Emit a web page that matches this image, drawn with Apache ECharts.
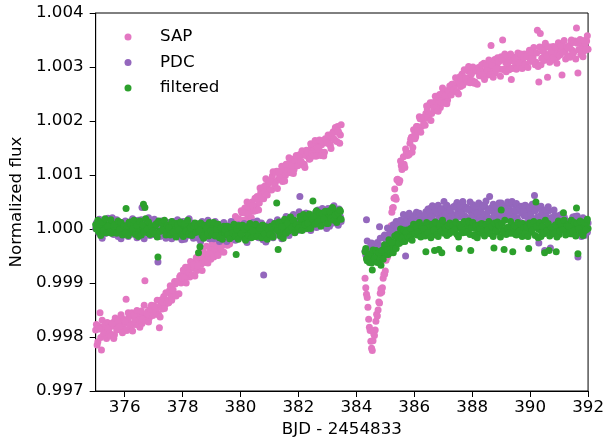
<!DOCTYPE html>
<html>
<head>
<meta charset="utf-8">
<script src="https://cdn.jsdelivr.net/npm/echarts@6/dist/echarts.min.js"></script>
<style>
  html, body { margin: 0; padding: 0; background: #fff; }
  #chart { width: 607px; height: 445px; }
</style>
</head>
<body>
<div id="chart"></div>
<script>
// BJD - 2454833, first segment (before the gap)
const timeA = [
  375.00, 375.05, 375.10, 375.15, 375.20, 375.25, 375.30, 375.35, 375.40, 375.45,
  375.50, 375.55, 375.60, 375.65, 375.70, 375.75, 375.80, 375.85, 375.90, 375.95,
  376.00, 376.05, 376.10, 376.15, 376.20, 376.25, 376.30, 376.35, 376.40, 376.45,
  376.50, 376.55, 376.60, 376.65, 376.70, 376.75, 376.80, 376.85, 376.90, 376.95,
  377.00, 377.05, 377.10, 377.15, 377.20, 377.25, 377.30, 377.35, 377.40, 377.45,
  377.50, 377.55, 377.60, 377.65, 377.70, 377.75, 377.80, 377.85, 377.90, 377.95,
  378.00, 378.05, 378.10, 378.15, 378.20, 378.25, 378.30, 378.35, 378.40, 378.45,
  378.50, 378.55, 378.60, 378.65, 378.70, 378.75, 378.80, 378.85, 378.90, 378.95,
  379.00, 379.05, 379.10, 379.15, 379.20, 379.25, 379.30, 379.35, 379.40, 379.45,
  379.50, 379.55, 379.60, 379.65, 379.70, 379.75, 379.80, 379.85, 379.90, 379.95,
  380.00, 380.05, 380.10, 380.15, 380.20, 380.25, 380.30, 380.35, 380.40, 380.45,
  380.50, 380.55, 380.60, 380.65, 380.70, 380.75, 380.80, 380.85, 380.90, 380.95,
  381.00, 381.05, 381.10, 381.15, 381.20, 381.25, 381.30, 381.35, 381.40, 381.45,
  381.50, 381.55, 381.60, 381.65, 381.70, 381.75, 381.80, 381.85, 381.90, 381.95,
  382.00, 382.05, 382.10, 382.15, 382.20, 382.25, 382.30, 382.35, 382.40, 382.45,
  382.50, 382.55, 382.60, 382.65, 382.70, 382.75, 382.80, 382.85, 382.90, 382.95,
  383.00, 383.05, 383.10, 383.15, 383.20, 383.25, 383.30, 383.35, 383.40, 383.45
]
// in-between cadences of the first segment
const timeA2 = [
  375.025, 375.075, 375.125, 375.175, 375.225, 375.275, 375.325, 375.375, 375.425, 375.475,
  375.525, 375.575, 375.625, 375.675, 375.725, 375.775, 375.825, 375.875, 375.925, 375.975,
  376.025, 376.075, 376.125, 376.175, 376.225, 376.275, 376.325, 376.375, 376.425, 376.475,
  376.525, 376.575, 376.625, 376.675, 376.725, 376.775, 376.825, 376.875, 376.925, 376.975,
  377.025, 377.075, 377.125, 377.175, 377.225, 377.275, 377.325, 377.375, 377.425, 377.475,
  377.525, 377.575, 377.625, 377.675, 377.725, 377.775, 377.825, 377.875, 377.925, 377.975,
  378.025, 378.075, 378.125, 378.175, 378.225, 378.275, 378.325, 378.375, 378.425, 378.475,
  378.525, 378.575, 378.625, 378.675, 378.725, 378.775, 378.825, 378.875, 378.925, 378.975,
  379.025, 379.075, 379.125, 379.175, 379.225, 379.275, 379.325, 379.375, 379.425, 379.475,
  379.525, 379.575, 379.625, 379.675, 379.725, 379.775, 379.825, 379.875, 379.925, 379.975,
  380.025, 380.075, 380.125, 380.175, 380.225, 380.275, 380.325, 380.375, 380.425, 380.475,
  380.525, 380.575, 380.625, 380.675, 380.725, 380.775, 380.825, 380.875, 380.925, 380.975,
  381.025, 381.075, 381.125, 381.175, 381.225, 381.275, 381.325, 381.375, 381.425, 381.475,
  381.525, 381.575, 381.625, 381.675, 381.725, 381.775, 381.825, 381.875, 381.925, 381.975,
  382.025, 382.075, 382.125, 382.175, 382.225, 382.275, 382.325, 382.375, 382.425, 382.475,
  382.525, 382.575, 382.625, 382.675, 382.725, 382.775, 382.825, 382.875, 382.925, 382.975,
  383.025, 383.075, 383.125, 383.175, 383.225, 383.275, 383.325, 383.375, 383.425, 383.475
]
// second segment (after the gap)
const timeB = [
  384.30, 384.35, 384.40, 384.45, 384.50, 384.55, 384.60, 384.65, 384.70, 384.75,
  384.80, 384.85, 384.90, 384.95, 385.00, 385.05, 385.10, 385.15, 385.20, 385.25,
  385.30, 385.35, 385.40, 385.45, 385.50, 385.55, 385.60, 385.65, 385.70, 385.75,
  385.80, 385.85, 385.90, 385.95, 386.00, 386.05, 386.10, 386.15, 386.20, 386.25,
  386.30, 386.35, 386.40, 386.45, 386.50, 386.55, 386.60, 386.65, 386.70, 386.75,
  386.80, 386.85, 386.90, 386.95, 387.00, 387.05, 387.10, 387.15, 387.20, 387.25,
  387.30, 387.35, 387.40, 387.45, 387.50, 387.55, 387.60, 387.65, 387.70, 387.75,
  387.80, 387.85, 387.90, 387.95, 388.00, 388.05, 388.10, 388.15, 388.20, 388.25,
  388.30, 388.35, 388.40, 388.45, 388.50, 388.55, 388.60, 388.65, 388.70, 388.75,
  388.80, 388.85, 388.90, 388.95, 389.00, 389.05, 389.10, 389.15, 389.20, 389.25,
  389.30, 389.35, 389.40, 389.45, 389.50, 389.55, 389.60, 389.65, 389.70, 389.75,
  389.80, 389.85, 389.90, 389.95, 390.00, 390.05, 390.10, 390.15, 390.20, 390.25,
  390.30, 390.35, 390.40, 390.45, 390.50, 390.55, 390.60, 390.65, 390.70, 390.75,
  390.80, 390.85, 390.90, 390.95, 391.00, 391.05, 391.10, 391.15, 391.20, 391.25,
  391.30, 391.35, 391.40, 391.45, 391.50, 391.55, 391.60, 391.65, 391.70, 391.75,
  391.80, 391.85, 391.90, 391.95, 392.00
]
const timeB2 = [
  384.325, 384.375, 384.425, 384.475, 384.525, 384.575, 384.625, 384.675, 384.725, 384.775,
  384.825, 384.875, 384.925, 384.975, 385.025, 385.075, 385.125, 385.175, 385.225, 385.275,
  385.325, 385.375, 385.425, 385.475, 385.525, 385.575, 385.625, 385.675, 385.725, 385.775,
  385.825, 385.875, 385.925, 385.975, 386.025, 386.075, 386.125, 386.175, 386.225, 386.275,
  386.325, 386.375, 386.425, 386.475, 386.525, 386.575, 386.625, 386.675, 386.725, 386.775,
  386.825, 386.875, 386.925, 386.975, 387.025, 387.075, 387.125, 387.175, 387.225, 387.275,
  387.325, 387.375, 387.425, 387.475, 387.525, 387.575, 387.625, 387.675, 387.725, 387.775,
  387.825, 387.875, 387.925, 387.975, 388.025, 388.075, 388.125, 388.175, 388.225, 388.275,
  388.325, 388.375, 388.425, 388.475, 388.525, 388.575, 388.625, 388.675, 388.725, 388.775,
  388.825, 388.875, 388.925, 388.975, 389.025, 389.075, 389.125, 389.175, 389.225, 389.275,
  389.325, 389.375, 389.425, 389.475, 389.525, 389.575, 389.625, 389.675, 389.725, 389.775,
  389.825, 389.875, 389.925, 389.975, 390.025, 390.075, 390.125, 390.175, 390.225, 390.275,
  390.325, 390.375, 390.425, 390.475, 390.525, 390.575, 390.625, 390.675, 390.725, 390.775,
  390.825, 390.875, 390.925, 390.975, 391.025, 391.075, 391.125, 391.175, 391.225, 391.275,
  391.325, 391.375, 391.425, 391.475, 391.525, 391.575, 391.625, 391.675, 391.725, 391.775,
  391.825, 391.875, 391.925, 391.975
]

// SAP flux
const sapA = [
  0.99813, 0.99785, 0.99820, 0.99845, 0.99776, 0.99818, 0.99814, 0.99807, 0.99827, 0.99813,
  0.99806, 0.99820, 0.99827, 0.99804, 0.99822, 0.99815, 0.99829, 0.99820, 0.99835, 0.99817,
  0.99826, 0.99870, 0.99833, 0.99837, 0.99825, 0.99845, 0.99823, 0.99835, 0.99823, 0.99839,
  0.99832, 0.99844, 0.99825, 0.99841, 0.99904, 0.99835, 0.99847, 0.99835, 0.99852, 0.99846,
  0.99858, 0.99845, 0.99855, 0.99842, 0.99817, 0.99859, 0.99852, 0.99875, 0.99860, 0.99868,
  0.99863, 0.99886, 0.99876, 0.99887, 0.99876, 0.99898, 0.99879, 0.99902, 0.99911, 0.99900,
  0.99913, 0.99904, 0.99929, 0.99914, 0.99921, 0.99911, 0.99931, 0.99937, 0.99927, 0.99939,
  0.99923, 0.99939, 0.99947, 0.99935, 0.99959, 0.99944, 0.99938, 0.99954, 0.99947, 0.99964,
  0.99961, 0.99954, 0.99950, 0.99971, 0.99957, 0.99970, 0.99980, 0.99958, 0.99975, 0.99971,
  0.99988, 0.99970, 0.99993, 0.99993, 0.99988, 1.00010, 1.00002, 1.00015, 1.00000, 1.00018,
  1.00014, 1.00030, 1.00016, 1.00039, 1.00031, 1.00021, 1.00039, 1.00033, 1.00050, 1.00033,
  1.00057, 1.00043, 1.00054, 1.00048, 1.00068, 1.00068, 1.00056, 1.00080, 1.00075, 1.00084,
  1.00073, 1.00090, 1.00098, 1.00087, 1.00085, 1.00107, 1.00091, 1.00098, 1.00108, 1.00088,
  1.00107, 1.00099, 1.00115, 1.00121, 1.00108, 1.00114, 1.00129, 1.00110, 1.00125, 1.00120,
  1.00119, 1.00138, 1.00125, 1.00137, 1.00120, 1.00136, 1.00143, 1.00133, 1.00130, 1.00153,
  1.00146, 1.00142, 1.00135, 1.00156, 1.00154, 1.00144, 1.00156, 1.00164, 1.00142, 1.00164,
  1.00159, 1.00169, 1.00155, 1.00169, 1.00180, 1.00165, 1.00180, 1.00190, 1.00178, 1.00174
]
const sapA2 = [
  0.99823, 0.99791, 0.99815, 0.99799, 0.99831, 0.99807, 0.99824, 0.99797, 0.99816, 0.99805,
  0.99802, 0.99825, 0.99797, 0.99835, 0.99813, 0.99831, 0.99819, 0.99841, 0.99808, 0.99831,
  0.99829, 0.99812, 0.99845, 0.99820, 0.99842, 0.99811, 0.99841, 0.99829, 0.99849, 0.99822,
  0.99818, 0.99848, 0.99833, 0.99859, 0.99830, 0.99843, 0.99828, 0.99852, 0.99859, 0.99840,
  0.99857, 0.99847, 0.99868, 0.99841, 0.99837, 0.99869, 0.99865, 0.99853, 0.99882, 0.99865,
  0.99864, 0.99895, 0.99868, 0.99887, 0.99903, 0.99876, 0.99903, 0.99880, 0.99914, 0.99909,
  0.99924, 0.99908, 0.99900, 0.99929, 0.99919, 0.99940, 0.99915, 0.99934, 0.99913, 0.99947,
  0.99932, 0.99954, 0.99948, 0.99923, 0.99956, 0.99939, 0.99968, 0.99937, 0.99954, 0.99944,
  0.99974, 0.99948, 0.99964, 0.99970, 0.99951, 0.99982, 0.99964, 0.99983, 0.99957, 0.99982,
  0.99971, 0.99991, 0.99972, 1.00008, 1.00006, 0.99999, 1.00023, 0.99995, 1.00019, 0.99997,
  1.00034, 1.00004, 1.00030, 1.00016, 1.00050, 1.00028, 1.00047, 1.00021, 1.00043, 1.00034,
  1.00034, 1.00060, 1.00035, 1.00076, 1.00057, 1.00077, 1.00068, 1.00093, 1.00063, 1.00088,
  1.00088, 1.00072, 1.00106, 1.00082, 1.00105, 1.00075, 1.00106, 1.00095, 1.00116, 1.00091,
  1.00089, 1.00120, 1.00105, 1.00132, 1.00104, 1.00118, 1.00103, 1.00128, 1.00136, 1.00117,
  1.00135, 1.00125, 1.00145, 1.00118, 1.00114, 1.00146, 1.00141, 1.00129, 1.00158, 1.00140,
  1.00135, 1.00164, 1.00135, 1.00151, 1.00165, 1.00136, 1.00161, 1.00135, 1.00167, 1.00160,
  1.00174, 1.00157, 1.00149, 1.00177, 1.00167, 1.00188, 1.00162, 1.00181, 1.00159, 1.00193
]
const sapB = [
  0.99909, 0.99879, 0.99855, 0.99818, 0.99792, 0.99775, 0.99806, 0.99813, 0.99842, 0.99850,
  0.99863, 0.99889, 0.99891, 0.99916, 0.99922, 0.99950, 0.99962, 0.99999, 1.00006, 1.00039,
  1.00057, 1.00059, 1.00091, 1.00089, 1.00090, 1.00117, 1.00120, 1.00120, 1.00148, 1.00141,
  1.00139, 1.00159, 1.00170, 1.00151, 1.00173, 1.00171, 1.00190, 1.00185, 1.00204, 1.00190,
  1.00202, 1.00194, 1.00214, 1.00221, 1.00211, 1.00234, 1.00214, 1.00229, 1.00219, 1.00237,
  1.00231, 1.00244, 1.00225, 1.00242, 1.00253, 1.00238, 1.00250, 1.00239, 1.00257, 1.00251,
  1.00268, 1.00256, 1.00266, 1.00254, 1.00274, 1.00271, 1.00264, 1.00287, 1.00272, 1.00280,
  1.00273, 1.00293, 1.00281, 1.00289, 1.00275, 1.00294, 1.00272, 1.00292, 1.00298, 1.00284,
  1.00294, 1.00283, 1.00307, 1.00290, 1.00296, 1.00285, 1.00303, 1.00340, 1.00296, 1.00307,
  1.00289, 1.00303, 1.00310, 1.00296, 1.00319, 1.00350, 1.00295, 1.00309, 1.00301, 1.00316,
  1.00312, 1.00277, 1.00298, 1.00318, 1.00303, 1.00315, 1.00324, 1.00300, 1.00316, 1.00310,
  1.00324, 1.00302, 1.00322, 1.00318, 1.00310, 1.00328, 1.00317, 1.00326, 1.00309, 1.00368,
  1.00272, 1.00362, 1.00316, 1.00336, 1.00326, 1.00314, 1.00281, 1.00322, 1.00337, 1.00318,
  1.00338, 1.00321, 1.00328, 1.00319, 1.00335, 1.00332, 1.00285, 1.00338, 1.00329, 1.00335,
  1.00321, 1.00337, 1.00343, 1.00331, 1.00327, 1.00348, 1.00372, 1.00289, 1.00344, 1.00323,
  1.00338, 1.00329, 1.00343, 1.00348, 1.00333
]
const sapB2 = [
  0.99891, 0.99873, 0.99833, 0.99812, 0.99779, 0.99793, 0.99803, 0.99829, 0.99839, 0.99865,
  0.99881, 0.99883, 0.99909, 0.99916, 0.99942, 0.99948, 0.99981, 0.99995, 1.00031, 1.00040,
  1.00074, 1.00055, 1.00092, 1.00086, 1.00126, 1.00110, 1.00134, 1.00114, 1.00141, 1.00136,
  1.00138, 1.00166, 1.00142, 1.00184, 1.00167, 1.00190, 1.00182, 1.00208, 1.00179, 1.00206,
  1.00207, 1.00192, 1.00228, 1.00205, 1.00230, 1.00201, 1.00234, 1.00224, 1.00246, 1.00221,
  1.00218, 1.00249, 1.00234, 1.00261, 1.00233, 1.00247, 1.00232, 1.00257, 1.00265, 1.00248,
  1.00268, 1.00259, 1.00280, 1.00254, 1.00250, 1.00282, 1.00278, 1.00266, 1.00295, 1.00278,
  1.00272, 1.00301, 1.00271, 1.00287, 1.00300, 1.00270, 1.00294, 1.00268, 1.00299, 1.00291,
  1.00304, 1.00286, 1.00277, 1.00304, 1.00293, 1.00313, 1.00286, 1.00304, 1.00281, 1.00314,
  1.00297, 1.00317, 1.00310, 1.00283, 1.00315, 1.00296, 1.00324, 1.00291, 1.00307, 1.00295,
  1.00324, 1.00297, 1.00311, 1.00316, 1.00296, 1.00326, 1.00307, 1.00324, 1.00297, 1.00319,
  1.00305, 1.00321, 1.00299, 1.00331, 1.00326, 1.00315, 1.00336, 1.00304, 1.00326, 1.00301,
  1.00337, 1.00304, 1.00329, 1.00312, 1.00344, 1.00320, 1.00337, 1.00309, 1.00329, 1.00317,
  1.00313, 1.00336, 1.00307, 1.00345, 1.00322, 1.00340, 1.00327, 1.00349, 1.00315, 1.00338,
  1.00335, 1.00318, 1.00350, 1.00325, 1.00346, 1.00315, 1.00344, 1.00332, 1.00351, 1.00324,
  1.00319, 1.00349, 1.00332, 1.00358
]

// PDC flux
const pdcA = [
  1.00001, 1.00009, 0.99993, 1.00005, 1.00014, 0.99997, 1.00010, 0.99992, 1.00004, 0.99998,
  1.00006, 1.00000, 0.99991, 1.00011, 1.00007, 0.99995, 1.00005, 1.00012, 0.99988, 1.00008,
  0.99996, 1.00013, 0.99999, 1.00009, 0.99990, 1.00004, 1.00010, 0.99998, 0.99993, 1.00015,
  1.00003, 0.99993, 1.00040, 1.00011, 0.99996, 1.00000, 1.00013, 0.99992, 1.00005, 0.99998,
  0.99990, 1.00005, 1.00011, 0.99939, 0.99994, 1.00014, 0.99996, 1.00001, 1.00009, 0.99987,
  1.00012, 0.99994, 1.00001, 0.99991, 1.00007, 1.00003, 0.99988, 1.00008, 0.99999, 1.00004,
  0.99995, 1.00008, 0.99992, 1.00012, 1.00001, 0.99989, 1.00004, 0.99996, 1.00010, 0.99991,
  1.00005, 0.99983, 1.00002, 0.99998, 0.99989, 1.00007, 0.99995, 1.00004, 0.99986, 1.00000,
  1.00002, 0.99993, 0.99986, 1.00005, 0.99989, 1.00000, 1.00008, 0.99983, 0.99998, 0.99991,
  0.99982, 0.99996, 1.00002, 0.99988, 1.00010, 0.99993, 0.99985, 0.99999, 0.99990, 1.00005,
  0.99997, 0.99985, 1.00008, 0.99990, 0.99995, 0.99983, 1.00000, 1.00004, 0.99991, 1.00001,
  0.99989, 1.00008, 0.99994, 1.00001, 0.99986, 1.00004, 0.99915, 1.00000, 1.00005, 0.99990,
  1.00010, 0.99995, 1.00003, 0.99988, 1.00006, 1.00001, 0.99992, 1.00013, 0.99996, 1.00002,
  1.00004, 1.00015, 0.99994, 1.00009, 1.00018, 1.00001, 1.00011, 0.99998, 1.00014, 1.00006,
  1.00015, 1.00060, 1.00020, 1.00023, 1.00010, 1.00029, 1.00006, 1.00017, 1.00004, 1.00019,
  1.00012, 1.00025, 1.00031, 1.00007, 1.00024, 1.00016, 1.00029, 1.00019, 1.00033, 1.00014,
  1.00028, 1.00015, 1.00034, 1.00020, 1.00011, 1.00030, 1.00025, 1.00017, 1.00037, 1.00022
]
const pdcA2 = [
  1.00011, 0.99999, 1.00018, 0.99989, 0.99983, 1.00013, 1.00007, 0.99993, 1.00020, 1.00001,
  0.99994, 1.00021, 0.99990, 1.00005, 1.00017, 0.99986, 1.00009, 0.99982, 1.00012, 1.00003,
  1.00015, 0.99996, 0.99986, 1.00012, 1.00000, 1.00019, 0.99991, 1.00008, 0.99984, 1.00016,
  0.99997, 1.00017, 1.00009, 0.99982, 1.00013, 0.99994, 1.00021, 0.99988, 1.00003, 0.99991,
  1.00018, 0.99990, 1.00003, 1.00007, 0.99986, 1.00015, 0.99995, 1.00011, 0.99983, 1.00004,
  0.99989, 1.00005, 0.99982, 1.00014, 1.00008, 0.99997, 1.00017, 0.99985, 1.00006, 0.99980,
  1.00014, 0.99981, 1.00005, 0.99988, 1.00019, 0.99995, 1.00011, 0.99983, 1.00002, 0.99990,
  0.99984, 1.00006, 0.99977, 1.00014, 0.99991, 1.00008, 0.99995, 1.00016, 0.99982, 1.00004,
  1.00000, 0.99982, 1.00014, 0.99988, 1.00009, 0.99977, 1.00006, 0.99993, 1.00012, 0.99984,
  0.99977, 1.00006, 0.99989, 1.00014, 0.99984, 0.99996, 0.99979, 1.00002, 1.00008, 0.99987,
  1.00003, 0.99991, 1.00010, 0.99981, 0.99975, 1.00005, 0.99999, 0.99985, 1.00012, 0.99993,
  0.99988, 1.00015, 0.99984, 0.99999, 1.00011, 0.99980, 1.00003, 0.99976, 1.00006, 0.99997,
  1.00013, 0.99994, 0.99984, 1.00010, 0.99998, 1.00017, 0.99989, 1.00006, 0.99982, 1.00014,
  1.00003, 1.00023, 1.00015, 0.99988, 1.00019, 1.00000, 1.00027, 0.99994, 1.00009, 0.99997,
  1.00032, 1.00004, 1.00017, 1.00021, 1.00000, 1.00029, 1.00009, 1.00025, 0.99997, 1.00018,
  1.00010, 1.00026, 1.00003, 1.00035, 1.00029, 1.00018, 1.00038, 1.00006, 1.00027, 1.00001,
  1.00038, 1.00005, 1.00029, 1.00012, 1.00043, 1.00019, 1.00035, 1.00007, 1.00026, 1.00014
]
const pdcB = [
  0.99959, 1.00017, 0.99949, 0.99961, 0.99970, 0.99954, 0.99968, 0.99952, 0.99966, 0.99962,
  1.00004, 0.99969, 0.99963, 0.99986, 0.99985, 0.99976, 0.99989, 0.99999, 0.99977, 0.99999,
  0.99989, 1.00008, 0.99996, 1.00008, 0.99991, 1.00007, 1.00015, 1.00004, 0.99950, 1.00023,
  1.00013, 1.00004, 1.00019, 1.00024, 1.00010, 1.00015, 1.00029, 1.00009, 1.00022, 1.00016,
  1.00009, 1.00025, 1.00032, 1.00020, 1.00017, 1.00038, 1.00021, 1.00027, 1.00036, 1.00015,
  1.00041, 1.00023, 1.00031, 1.00021, 1.00038, 1.00034, 1.00020, 1.00040, 1.00031, 1.00036,
  1.00028, 1.00041, 1.00025, 1.00045, 1.00034, 1.00022, 1.00037, 1.00029, 1.00043, 1.00024,
  1.00040, 1.00018, 1.00037, 1.00033, 1.00024, 1.00042, 1.00030, 1.00039, 1.00021, 1.00035,
  1.00038, 1.00029, 1.00022, 1.00041, 1.00025, 1.00036, 1.00060, 1.00019, 1.00034, 1.00027,
  1.00020, 1.00034, 1.00040, 1.00026, 1.00048, 1.00031, 1.00023, 1.00037, 1.00028, 1.00043,
  1.00035, 1.00023, 1.00046, 1.00028, 1.00033, 1.00021, 1.00038, 1.00042, 1.00029, 1.00039,
  1.00024, 1.00043, 1.00028, 1.00035, 1.00020, 1.00037, 1.00014, 1.00062, 1.00037, 1.00022,
  0.99974, 1.00022, 1.00029, 1.00013, 0.99960, 1.00024, 1.00014, 1.00034, 0.99965, 1.00021,
  1.00015, 1.00025, 1.00003, 1.00017, 1.00025, 1.00007, 1.00016, 1.00003, 1.00018, 1.00010,
  1.00011, 0.99999, 1.00015, 1.00018, 1.00004, 1.00023, 1.00000, 0.99948, 0.99997, 1.00012,
  1.00002, 1.00015, 0.99999, 1.00008, 1.00011
]
const pdcB2 = [
  0.99952, 0.99978, 0.99946, 0.99961, 0.99974, 0.99944, 0.99968, 0.99943, 0.99975, 0.99968,
  0.99983, 0.99967, 0.99960, 0.99989, 0.99980, 1.00002, 0.99977, 0.99996, 0.99974, 1.00008,
  0.99992, 1.00014, 1.00008, 0.99983, 1.00016, 0.99999, 1.00027, 0.99995, 1.00011, 1.00000,
  1.00029, 1.00002, 1.00016, 1.00021, 1.00001, 1.00031, 1.00012, 1.00029, 1.00001, 1.00023,
  1.00009, 1.00026, 1.00004, 1.00037, 1.00032, 1.00022, 1.00043, 1.00012, 1.00034, 1.00008,
  1.00044, 1.00012, 1.00036, 1.00020, 1.00051, 1.00028, 1.00044, 1.00016, 1.00035, 1.00023,
  1.00019, 1.00041, 1.00012, 1.00049, 1.00026, 1.00043, 1.00030, 1.00051, 1.00017, 1.00039,
  1.00036, 1.00018, 1.00050, 1.00024, 1.00045, 1.00013, 1.00042, 1.00029, 1.00048, 1.00020,
  1.00015, 1.00044, 1.00027, 1.00052, 1.00022, 1.00034, 1.00017, 1.00040, 1.00046, 1.00025,
  1.00041, 1.00029, 1.00048, 1.00019, 1.00013, 1.00043, 1.00037, 1.00023, 1.00050, 1.00031,
  1.00024, 1.00051, 1.00020, 1.00035, 1.00047, 1.00016, 1.00039, 1.00012, 1.00042, 1.00033,
  1.00044, 1.00024, 1.00014, 1.00040, 1.00027, 1.00046, 1.00018, 1.00034, 1.00010, 1.00041,
  1.00023, 1.00042, 1.00033, 1.00005, 1.00035, 1.00015, 1.00041, 1.00007, 1.00021, 1.00008,
  1.00035, 1.00006, 1.00018, 1.00021, 0.99999, 1.00027, 1.00007, 1.00022, 0.99994, 1.00014,
  0.99999, 1.00014, 0.99991, 1.00022, 1.00016, 1.00005, 1.00024, 0.99992, 1.00013, 0.99986,
  1.00021, 0.99988, 1.00011, 0.99994
]

// filtered flux
const filtA = [
  1.00008, 1.00001, 0.99995, 1.00010, 0.99997, 1.00006, 1.00013, 0.99993, 1.00005, 0.99999,
  1.00009, 0.99992, 1.00007, 1.00004, 0.99997, 1.00011, 1.00001, 1.00009, 0.99994, 1.00005,
  0.99999, 1.00038, 0.99996, 1.00012, 1.00004, 0.99994, 1.00006, 1.00000, 1.00011, 0.99996,
  1.00013, 0.99998, 1.00004, 1.00046, 1.00040, 1.00005, 0.99993, 1.00009, 1.00002, 1.00006,
  0.99993, 1.00005, 1.00010, 0.99948, 0.99996, 1.00012, 0.99998, 1.00002, 1.00008, 0.99991,
  1.00002, 0.99994, 1.00005, 1.00008, 0.99996, 0.99999, 1.00010, 0.99993, 1.00003, 0.99998,
  0.99995, 1.00009, 0.99998, 1.00006, 0.99990, 1.00002, 1.00006, 0.99997, 0.99993, 1.00010,
  1.00001, 0.99956, 0.99967, 1.00005, 1.00002, 0.99992, 1.00000, 1.00006, 0.99987, 1.00003,
  0.99996, 1.00003, 0.99990, 0.99999, 1.00007, 0.99993, 1.00003, 0.99989, 0.99999, 0.99994,
  0.99999, 0.99989, 1.00004, 0.99993, 0.99985, 1.00001, 0.99997, 0.99953, 1.00006, 0.99994,
  0.99987, 0.99997, 1.00002, 0.99983, 0.99996, 0.99990, 1.00000, 0.99992, 1.00004, 0.99988,
  0.99996, 0.99986, 1.00000, 1.00002, 0.99992, 1.00007, 0.99989, 0.99997, 0.99987, 0.99999,
  0.99997, 1.00005, 0.99989, 1.00001, 1.00008, 1.00048, 0.99962, 0.99992, 1.00005, 0.99998,
  1.00014, 1.00002, 1.00008, 0.99996, 1.00011, 1.00007, 1.00000, 1.00016, 1.00003, 1.00008,
  1.00007, 1.00023, 1.00011, 1.00017, 1.00005, 1.00019, 1.00001, 1.00016, 1.00020, 1.00008,
  1.00052, 1.00013, 1.00031, 1.00017, 1.00021, 1.00011, 1.00025, 1.00028, 1.00018, 1.00026,
  1.00014, 1.00026, 1.00030, 1.00019, 1.00037, 1.00023, 1.00017, 1.00028, 1.00021, 1.00033
]
const filtA2 = [
  1.00000, 1.00016, 1.00009, 0.99988, 1.00013, 0.99997, 1.00019, 0.99993, 1.00005, 0.99995,
  1.00017, 0.99995, 1.00005, 1.00009, 0.99992, 1.00015, 0.99999, 1.00012, 0.99989, 1.00006,
  0.99993, 1.00006, 0.99988, 1.00013, 1.00008, 1.00000, 1.00016, 0.99990, 1.00007, 0.99986,
  1.00015, 0.99989, 1.00008, 0.99994, 1.00019, 1.00000, 1.00013, 0.99990, 1.00005, 0.99996,
  0.99991, 1.00008, 0.99985, 1.00015, 0.99996, 1.00010, 0.99999, 1.00016, 0.99989, 1.00007,
  1.00003, 0.99989, 1.00014, 0.99994, 1.00010, 0.99985, 1.00008, 0.99998, 1.00013, 0.99990,
  0.99986, 1.00010, 0.99996, 1.00016, 0.99992, 1.00002, 0.99988, 1.00006, 1.00011, 0.99994,
  1.00005, 0.99996, 1.00011, 0.99988, 0.99983, 1.00007, 1.00002, 0.99991, 1.00012, 0.99997,
  0.99991, 1.00012, 0.99987, 0.99999, 1.00009, 0.99984, 1.00003, 0.99981, 1.00005, 0.99998,
  1.00005, 0.99990, 0.99982, 1.00003, 0.99993, 1.00009, 0.99986, 1.00000, 0.99981, 1.00006,
  0.99991, 1.00007, 1.00000, 0.99979, 1.00004, 0.99988, 1.00010, 0.99984, 0.99996, 0.99986,
  1.00009, 0.99987, 0.99997, 1.00001, 0.99984, 1.00007, 0.99991, 1.00004, 0.99981, 0.99998,
  0.99990, 1.00003, 0.99985, 1.00010, 1.00005, 0.99997, 1.00013, 0.99987, 1.00004, 0.99983,
  1.00018, 0.99992, 1.00011, 0.99997, 1.00022, 1.00003, 1.00016, 0.99993, 1.00008, 0.99999,
  1.00003, 1.00020, 0.99997, 1.00027, 1.00008, 1.00022, 1.00011, 1.00028, 1.00001, 1.00019,
  1.00023, 1.00009, 1.00034, 1.00014, 1.00030, 1.00005, 1.00028, 1.00018, 1.00033, 1.00010,
  1.00010, 1.00034, 1.00020, 1.00040, 1.00016, 1.00026, 1.00012, 1.00030, 1.00035, 1.00018
]
const filtB = [
  0.99958, 0.99945, 0.99950, 0.99938, 0.99953, 0.99924, 0.99943, 0.99960, 0.99948, 0.99954,
  0.99947, 0.99933, 0.99955, 0.99963, 0.99953, 0.99969, 0.99953, 0.99970, 0.99976, 0.99966,
  0.99975, 0.99969, 0.99990, 0.99978, 0.99984, 0.99976, 0.99992, 0.99997, 0.99989, 0.99998,
  0.99983, 0.99996, 1.00000, 0.99990, 1.00008, 0.99995, 0.99989, 1.00001, 0.99994, 1.00006,
  1.00003, 0.99996, 0.99958, 1.00005, 0.99993, 1.00002, 1.00009, 0.99989, 0.99960, 0.99996,
  1.00006, 0.99962, 1.00004, 0.99956, 0.99994, 1.00008, 0.99998, 1.00006, 0.99991, 1.00002,
  0.99997, 1.00007, 0.99994, 1.00010, 1.00002, 0.99964, 1.00004, 0.99998, 1.00009, 0.99994,
  1.00010, 0.99995, 1.00001, 0.99960, 1.00006, 1.00002, 0.99990, 1.00006, 0.99999, 1.00003,
  0.99992, 1.00004, 1.00009, 0.99998, 0.99995, 1.00011, 0.99997, 1.00001, 1.00007, 0.99965,
  1.00002, 0.99994, 1.00005, 1.00008, 1.00035, 0.99999, 0.99962, 0.99993, 1.00003, 0.99998,
  0.99995, 1.00009, 0.99958, 1.00006, 0.99990, 1.00002, 1.00006, 0.99997, 0.99993, 1.00010,
  1.00003, 0.99998, 0.99991, 0.99964, 1.00004, 0.99994, 1.00002, 1.00008, 1.00050, 1.00005,
  0.99999, 1.00006, 0.99993, 1.00002, 0.99956, 0.99996, 1.00006, 0.99960, 1.00002, 0.99997,
  1.00004, 0.99994, 0.99958, 0.99998, 0.99990, 1.00006, 1.00002, 1.00030, 1.00011, 0.99999,
  0.99995, 1.00005, 1.00010, 0.99991, 1.00004, 0.99998, 1.00039, 0.99954, 1.00012, 0.99996,
  1.00005, 0.99995, 1.00009, 1.00011, 1.00001
]
const filtB2 = [
  0.99964, 0.99941, 0.99950, 0.99954, 0.99937, 0.99961, 0.99946, 0.99960, 0.99938, 0.99956,
  0.99945, 0.99960, 0.99944, 0.99971, 0.99968, 0.99962, 0.99980, 0.99956, 0.99975, 0.99956,
  0.99987, 0.99964, 0.99985, 0.99973, 1.00000, 0.99983, 0.99998, 0.99977, 0.99994, 0.99986,
  0.99984, 1.00001, 0.99979, 1.00009, 0.99991, 1.00005, 0.99995, 1.00012, 0.99985, 1.00004,
  1.00001, 0.99987, 1.00012, 0.99993, 1.00009, 0.99984, 1.00007, 0.99998, 1.00013, 0.99990,
  0.99986, 1.00010, 0.99996, 1.00016, 0.99992, 1.00002, 0.99988, 1.00006, 1.00011, 0.99994,
  1.00007, 0.99998, 1.00013, 0.99990, 0.99985, 1.00009, 1.00004, 0.99993, 1.00014, 0.99999,
  0.99994, 1.00015, 0.99990, 1.00002, 1.00012, 0.99987, 1.00006, 0.99984, 1.00008, 1.00001,
  1.00010, 0.99995, 0.99987, 1.00008, 0.99998, 1.00014, 0.99991, 1.00005, 0.99986, 1.00011,
  0.99997, 1.00013, 1.00006, 0.99985, 1.00010, 0.99994, 1.00016, 0.99990, 1.00002, 0.99992,
  1.00014, 0.99992, 1.00002, 1.00006, 0.99989, 1.00012, 0.99996, 1.00009, 0.99986, 1.00003,
  0.99991, 1.00004, 0.99986, 1.00011, 1.00006, 0.99998, 1.00014, 0.99988, 1.00005, 0.99984,
  1.00012, 0.99986, 1.00005, 0.99991, 1.00016, 0.99997, 1.00010, 0.99987, 1.00002, 0.99993,
  0.99991, 1.00008, 0.99985, 1.00015, 0.99996, 1.00010, 0.99999, 1.00016, 0.99989, 1.00007,
  1.00005, 0.99991, 1.00016, 0.99996, 1.00012, 0.99987, 1.00010, 1.00000, 1.00015, 0.99992,
  0.99988, 1.00012, 0.99998, 1.00018
]

const xTicks = [376, 378, 380, 382, 384, 386, 388, 390, 392]
const yTicks = [0.997, 0.998, 0.999, 1.000, 1.001, 1.002, 1.003, 1.004]

const FONT = 'DejaVu Sans'

function pairs(t, v) {
  return t.map((x, i) => [x, v[i]])
}

function allPoints(a, a2, b, b2) {
  return pairs(timeA, a).concat(pairs(timeA2, a2), pairs(timeB, b), pairs(timeB2, b2))
}

const chart = echarts.init(document.getElementById('chart'))

const axisCommon = {
  type: 'value',
  splitLine: { show: false },
  axisLine: { show: true, onZero: false, lineStyle: { color: '#000', width: 1 } },
  nameLocation: 'middle',
  nameTextStyle: { fontFamily: FONT, fontSize: 16.7, color: '#000' }
}

const option = {
  animation: false,
  backgroundColor: '#fff',
  grid: {
    left: 94, right: 18, top: 13, bottom: 54,
    show: true, borderColor: '#000', borderWidth: 1, backgroundColor: 'transparent'
  },
  legend: {
    orient: 'vertical',
    left: 119.5,
    top: 22,
    icon: 'circle',
    itemWidth: 7,
    itemHeight: 7,
    itemGap: 5.5,
    data: ['SAP', 'PDC', 'filtered'],
    textStyle: {
      fontFamily: FONT, fontSize: 16.7, color: '#000', lineHeight: 20,
      padding: [0, 0, 0, 23.5]
    }
  },
  xAxis: Object.assign({}, axisCommon, {
    min: 375,
    max: 392,
    name: 'BJD - 2454833',
    nameGap: 26,
    axisTick: { show: true, length: 6, customValues: xTicks, lineStyle: { color: '#000' } },
    axisLabel: { customValues: xTicks, fontFamily: FONT, fontSize: 16.7, color: '#000', margin: 8 }
  }),
  yAxis: Object.assign({}, axisCommon, {
    min: 0.997,
    max: 1.004,
    name: 'Normalized flux',
    nameGap: 68,
    axisTick: { show: true, length: 6, customValues: yTicks, lineStyle: { color: '#000' } },
    axisLabel: {
      customValues: yTicks, fontFamily: FONT, fontSize: 16.7, color: '#000', margin: 12,
      formatter: v => v.toFixed(3)
    }
  }),
  series: [
    {
      name: 'SAP', type: 'scatter', symbolSize: 7,
      itemStyle: { color: '#e377c2', opacity: 1 },
      data: allPoints(sapA, sapA2, sapB, sapB2)
    },
    {
      name: 'PDC', type: 'scatter', symbolSize: 7,
      itemStyle: { color: '#9467bd', opacity: 1 },
      data: allPoints(pdcA, pdcA2, pdcB, pdcB2)
    },
    {
      name: 'filtered', type: 'scatter', symbolSize: 7,
      itemStyle: { color: '#2ca02c', opacity: 1 },
      data: allPoints(filtA, filtA2, filtB, filtB2)
    }
  ]
}

chart.setOption(option)
</script>
</body>
</html>
